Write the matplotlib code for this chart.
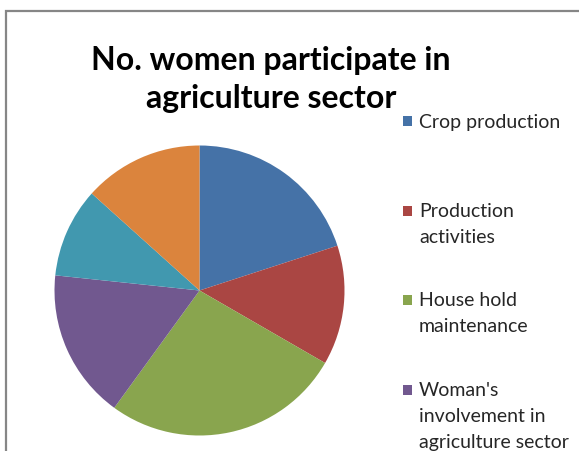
import matplotlib
matplotlib.use("Agg")
import matplotlib.pyplot as plt
from matplotlib.patches import Rectangle

# ---- data ----
categories = ["Crop production", "Production activities", "House hold maintenance",
              "Woman's involvement in agriculture sector", "Other 1", "Other 2"]
values = [30, 20, 40, 25, 15, 20]
colors = ["#4572A7", "#AA4643", "#89A54E", "#71588F", "#4198AF", "#DB843D"]
legend_labels = ["Crop production", "Production\nactivities", "House hold\nmaintenance",
                 "Woman's\ninvolvement in\nagriculture sector"]
title = "No. women participate in\nagriculture sector"

W, H = 579, 452
fig = plt.figure(figsize=(W / 100, H / 100), dpi=100)
fig.patch.set_facecolor("white")

# outer chart border (gray)
fig.patches.append(Rectangle((6 / W, -0.1), 1.2, (H - 12) / H + 0.1,
                             transform=fig.transFigure, fill=False,
                             edgecolor="#868686", linewidth=1.6))

# pie
cx, cy, r = 199.5, 291.5, 145
ax = fig.add_axes([(cx - r) / W, 1 - (cy + r) / H, 2 * r / W, 2 * r / H])
ax.pie(values, colors=colors, startangle=90, counterclock=False,
       wedgeprops=dict(linewidth=0))
ax.set_xlim(-1, 1)
ax.set_ylim(-1, 1)
ax.set_aspect("equal")
ax.axis("off")

# title (baseline alignment uses the last line)
fig.text(271 / W, 1 - 108 / H, title, ha="center", va="baseline",
         fontsize=23, fontweight="bold", family="Lato", color="black",
         linespacing=1.38)

# legend (first four entries visible)
pitch = 25.5
base_y = [128, 218, 307, 397]
for lab, col, by in zip(legend_labels, colors, base_y):
    n = lab.count("\n")
    fig.patches.append(Rectangle((403 / W, 1 - (by - 1) / H), 9 / W, 10 / H,
                                 transform=fig.transFigure, facecolor=col,
                                 edgecolor="none"))
    fig.text(419 / W, 1 - (by + n * pitch) / H, lab, ha="left", va="baseline",
             fontsize=14, family="Lato", color="#262626", linespacing=1.65)

fig.savefig("out.png", dpi=100, facecolor="white")
